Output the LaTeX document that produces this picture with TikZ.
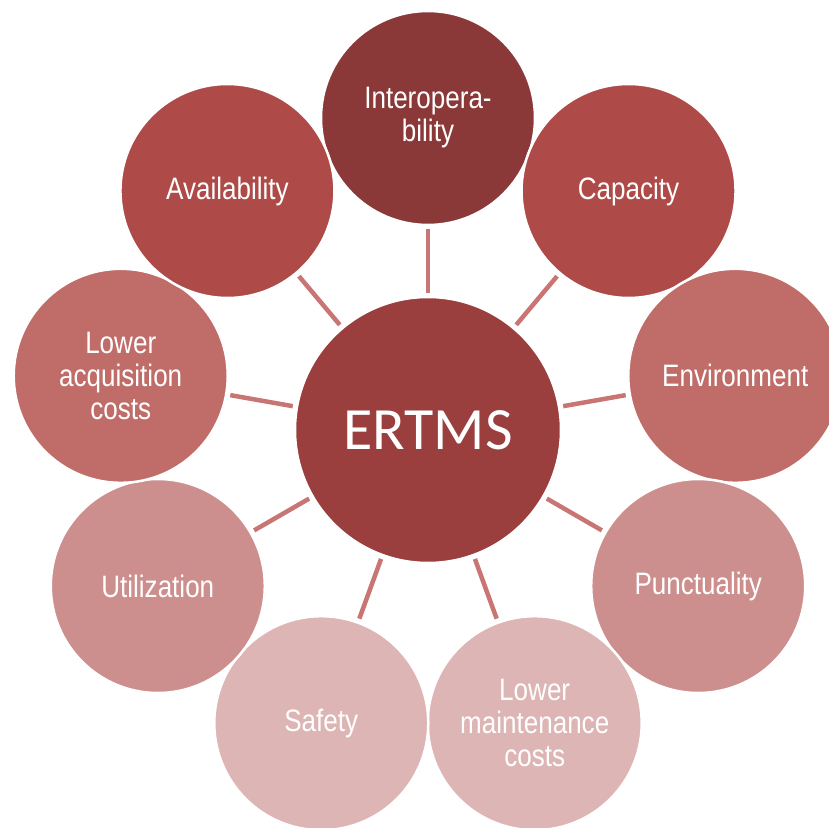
\documentclass[tikz,border=0pt]{standalone}
\usepackage{fontspec}
\usepackage{tikz}
\newfontfamily\leaffont[FakeStretch=0.84]{Liberation Sans}
\newfontfamily\hubfont{Carlito}
\definecolor{ertms}{HTML}{9A3E3E}
\definecolor{tone0}{HTML}{8B3838}
\definecolor{tone1}{HTML}{AE4B48}
\definecolor{tone2}{HTML}{C06C69}
\definecolor{tone3}{HTML}{CD8F8D}
\definecolor{tone4}{HTML}{DDB5B4}
\definecolor{spokecol}{HTML}{C87574}
\tikzset{
  hub/.style={circle,fill=ertms,draw=white,line width=2.5pt,minimum size=266pt,inner sep=0pt,text=white,font=\hubfont\fontsize{60}{66}\selectfont},
  leaf/.style={circle,fill=#1,draw=white,line width=2.5pt,minimum size=214pt,inner sep=0pt,align=center,text=white,font=\leaffont\fontsize{31}{33}\selectfont},
  spoke/.style={-,line width=4.5pt,draw=spokecol,shorten <=3pt,shorten >=3pt}
}

\begin{document}
\begin{tikzpicture}[x=1pt,y=1pt]
\useasboundingbox (-428,-398) rectangle (400,430);
% outer ring, clockwise from the top, each one over the last
\node[leaf=tone0] (inter) at (90:312) {Interopera-\\bility};
\node[leaf=tone1] (cap) at (50:312) {Capacity};
\node[leaf=tone2] (env) at (10:312) {Environment};
\node[leaf=tone3] (punct) at (-30:312) {Punctuality};
\node[leaf=tone4] (maint) at (-70:312) {Lower\\maintenance\\costs};
\node[leaf=tone4] (safe) at (-110:312) {Safety};
\node[leaf=tone3] (util) at (-150:312) {Utilization};
\node[leaf=tone2] (acq) at (170:312) {Lower\\acquisition\\costs};
\node[leaf=tone1] (avail) at (130:312) {Availability};
% centre
\node[hub] (hub) at (0,0) {ERTMS};
% spokes
\draw[spoke] (hub) -- (inter);
\draw[spoke] (hub) -- (cap);
\draw[spoke] (hub) -- (env);
\draw[spoke] (hub) -- (punct);
\draw[spoke] (hub) -- (maint);
\draw[spoke] (hub) -- (safe);
\draw[spoke] (hub) -- (util);
\draw[spoke] (hub) -- (acq);
\draw[spoke] (hub) -- (avail);
\end{tikzpicture}
\end{document}
